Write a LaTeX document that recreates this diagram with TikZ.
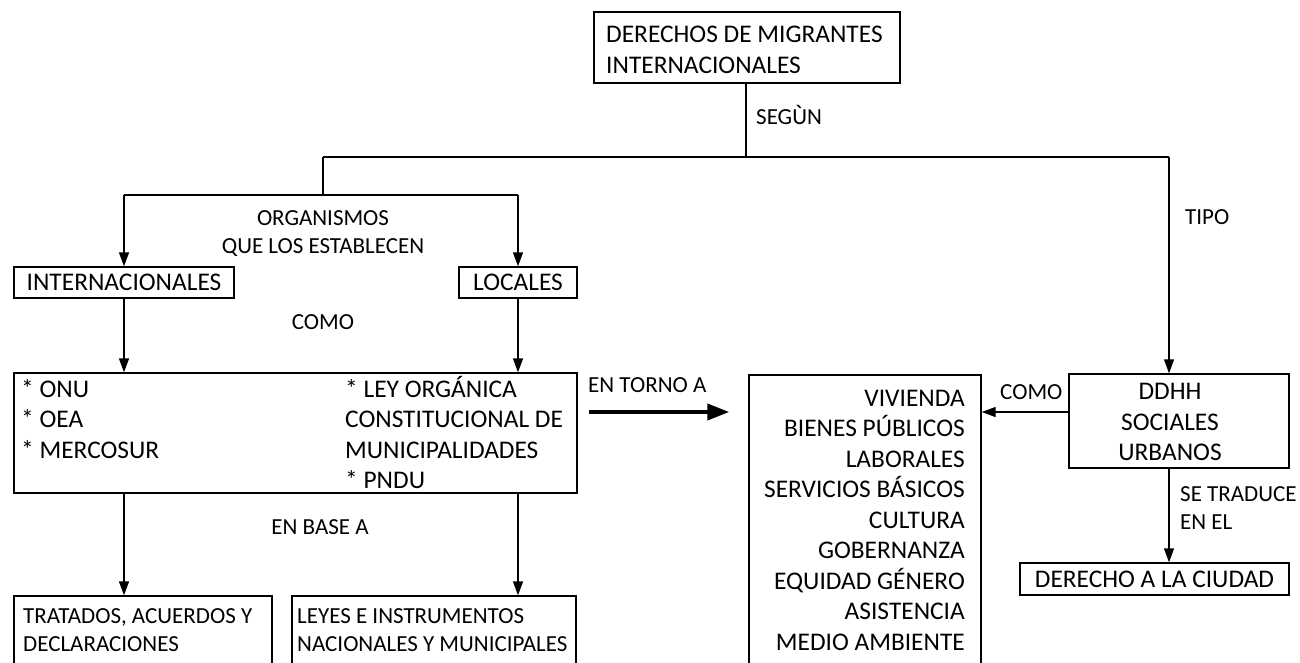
\documentclass[tikz,border=0pt]{standalone}
\usepackage{fontspec}
\setmainfont{Carlito}
\usetikzlibrary{arrows.meta}
\begin{document}
\begin{tikzpicture}[x=1pt,y=-1pt,
  box/.style={draw, line width=1.4pt, inner sep=0pt, font=\fontsize{25.4pt}{30.5pt}\selectfont},
  txt/.style={inner sep=0pt, font=\fontsize{25.4pt}{30.5pt}\selectfont},
  smalltxt/.style={inner sep=0pt, font=\fontsize{23pt}{28pt}\selectfont},
  lbl/.style={inner sep=0pt, font=\fontsize{23pt}{28pt}\selectfont},
  conn/.style={line width=1.4pt},
  arr/.style={line width=1.4pt, -{Triangle[length=14pt,width=10pt]}},
  bigarr/.style={line width=4pt, -{Triangle[length=22pt,width=16pt]}}]
\useasboundingbox (0,0) rectangle (1300,662);
\fill[white] (0,0) rectangle (1300,662);
\clip (0,0) rectangle (1300,662);

% boxes (multi-line texts are anchored at the baseline of their last line)
\node[box, minimum width=306pt, minimum height=71pt] (top) at (747,47.5) {};
\node[txt, anchor=base west, align=left] (topt) at (606,73) {DERECHOS DE MIGRANTES\\INTERNACIONALES};
\node[box, minimum width=220pt, minimum height=31pt] (intl) at (124,282.5) {INTERNACIONALES};
\node[box, minimum width=118pt, minimum height=31pt] (loc) at (518,282.5) {LOCALES};
\node[box, minimum width=563pt, minimum height=120pt] (big) at (295.5,433) {};
\node[txt, anchor=base west, align=left] (bigl) at (21,458) {* ONU\\{}* OEA\\{}* MERCOSUR};
\node[txt, anchor=base west, align=left] (bigr) at (345,488.5)
  {* LEY ORGÁNICA\\CONSTITUCIONAL DE\\MUNICIPALIDADES\\{}* PNDU};
\node[box, minimum width=258pt, minimum height=110pt] (trat) at (143,651) {};
\node[smalltxt, anchor=base west, align=left] (tratt) at (23,651) {TRATADOS, ACUERDOS Y\\DECLARACIONES};
\node[box, minimum width=284pt, minimum height=110pt] (leyes) at (434,651) {};
\node[smalltxt, anchor=base west, align=left] (leyest) at (297,651) {LEYES E INSTRUMENTOS\\NACIONALES Y MUNICIPALES};
\node[box, minimum width=232pt, minimum height=330pt] (viv) at (865,540) {};
\node[txt, anchor=base east, align=right] (vivt) at (965,650)
  {VIVIENDA\\BIENES PÚBLICOS\\LABORALES\\SERVICIOS BÁSICOS\\CULTURA\\GOBERNANZA\\EQUIDAD GÉNERO\\ASISTENCIA\\MEDIO AMBIENTE};
\node[box, minimum width=220pt, minimum height=94pt] (ddhh) at (1179,421) {};
\node[txt, align=center] (ddhht) at (1170,422) {DDHH\\SOCIALES\\URBANOS};
\node[box, minimum width=269pt, minimum height=32pt] (ciudad) at (1154.5,579) {DERECHO A LA CIUDAD};

% labels
\node[lbl, anchor=west] (segun) at (756,115) {SEGÙN};
\node[lbl, align=center] (org) at (323,234) {ORGANISMOS\\QUE LOS ESTABLECEN};
\node[lbl] (como1) at (323,322) {COMO};
\node[lbl] (base) at (320,527) {EN BASE A};
\node[lbl, anchor=west] (tipo) at (1185,217) {TIPO};
\node[lbl, anchor=west] (torno) at (588,385) {EN TORNO A};
\node[lbl, anchor=west] (como2) at (1000,392) {COMO};
\node[lbl, anchor=west, align=left] (trad) at (1180,508) {SE TRADUCE\\EN EL};

% connectors
\coordinate (j0) at (746,157);
\coordinate (jl) at (323,157);
\coordinate (jr) at (1169,157);
\coordinate (k0) at (323,195);
\coordinate (kl) at (124,195);
\coordinate (kr) at (518,195);
\draw[conn] (top.south -| j0) -- (j0);
\draw[conn] (jl) -- (jr);
\draw[conn] (jl) -- (k0);
\draw[conn] (kl) -- (kr);
\draw[arr] (kl) -- (intl.north);
\draw[arr] (kr) -- (loc.north);
\draw[arr] (intl.south) -- (intl.south |- big.north);
\draw[arr] (loc.south) -- (loc.south |- big.north);
\draw[arr] (big.south -| intl) -- (trat.north -| intl);
\draw[arr] (big.south -| loc) -- (leyes.north -| loc);
\coordinate (tornoy) at (0,412);
\draw[bigarr, shorten <=11pt, shorten >=19pt] (big.east |- tornoy) -- (viv.west |- tornoy);
\draw[arr] (ddhh.west |- tornoy) -- (viv.east |- tornoy);
\draw[arr] (jr) -- (ddhh.north -| jr);
\draw[arr] (ddhh.south -| jr) -- (ciudad.north -| jr);
\end{tikzpicture}
\end{document}
